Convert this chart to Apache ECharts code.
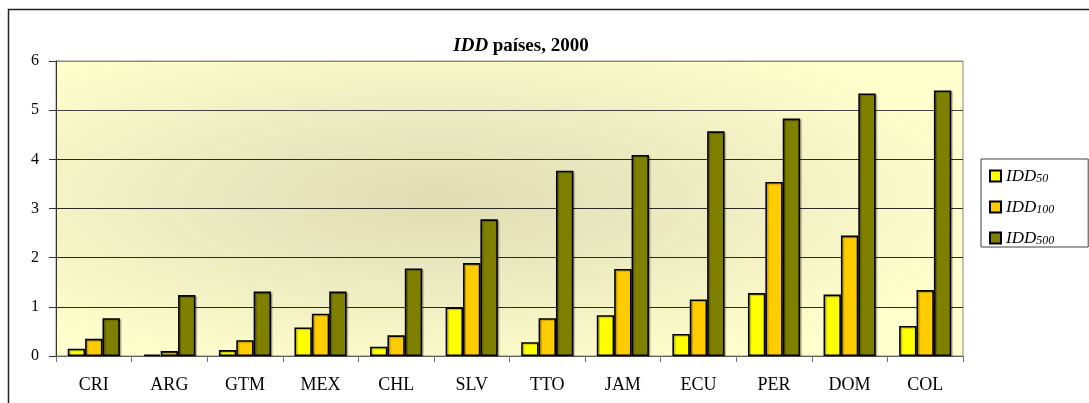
<!DOCTYPE html>
<html>
<head>
<meta charset="utf-8">
<script src="https://cdn.jsdelivr.net/npm/echarts@6/dist/echarts.min.js"></script>
<style>
  html, body { margin: 0; padding: 0; background: #ffffff; }
  #chart { width: 1089px; height: 403px; }
</style>
</head>
<body>
<div id="chart"></div>
<script>
// Countries (ISO codes) along the category axis
const categories = ['CRI', 'ARG', 'GTM', 'MEX', 'CHL', 'SLV', 'TTO', 'JAM', 'ECU', 'PER', 'DOM', 'COL'];

// IDD index per country for the three thresholds
const idd50  = [0.15, 0.03, 0.12, 0.58, 0.19, 0.99, 0.28, 0.83, 0.45, 1.28, 1.25, 0.61];
const idd100 = [0.35, 0.10, 0.32, 0.86, 0.42, 1.89, 0.77, 1.77, 1.15, 3.54, 2.45, 1.34];
const idd500 = [0.77, 1.24, 1.31, 1.31, 1.78, 2.78, 3.77, 4.09, 4.57, 4.83, 5.34, 5.40];

// Series names and the subscript shown after "IDD" in the legend
const seriesNames = ['IDD50', 'IDD100', 'IDD500'];
const subscripts  = ['50', '100', '500'];
const seriesColors = ['#FFFF00', '#FFCC00', '#808000'];

const yTicks = { min: 0, max: 6, interval: 1 };

const SERIF = '"Liberation Serif", "Times New Roman", serif';

// Plot area box, shared by the grid and its background
const plot = { left: 56, top: 61, width: 907, height: 295 };

const chart = echarts.init(document.getElementById('chart'), null, { renderer: 'canvas' });

const seriesData = [idd50, idd100, idd500];

const option = {
  animation: false,
  backgroundColor: '#ffffff',
  textStyle: { fontFamily: SERIF, color: '#000' },
  title: {
    text: '{i|IDD} {b|países, 2000}',
    left: 516,
    top: 32,
    textAlign: 'center',
    textStyle: {
      rich: {
        i: { fontFamily: SERIF, fontSize: 19, fontWeight: 'bold', fontStyle: 'italic', color: '#000' },
        b: { fontFamily: SERIF, fontSize: 19, fontWeight: 'bold', color: '#000' }
      }
    }
  },
  legend: {
    orient: 'vertical',
    left: 981,
    top: 159,
    padding: [9, 34, 0, 8],
    itemGap: 14,
    itemWidth: 11,
    itemHeight: 11,
    icon: 'rect',
    backgroundColor: '#ffffff',
    borderColor: '#404040',
    borderWidth: 1,
    borderRadius: 0,
    data: seriesNames,
    formatter: function (name) {
      const k = seriesNames.indexOf(name);
      return '{m|IDD}{s|' + subscripts[k] + '}';
    },
    textStyle: {
      rich: {
        m: { fontFamily: SERIF, fontSize: 17, fontStyle: 'italic', color: '#000', lineHeight: 18, verticalAlign: 'bottom' },
        s: { fontFamily: SERIF, fontSize: 12, fontStyle: 'italic', color: '#000', lineHeight: 10, verticalAlign: 'bottom' }
      }
    }
  },
  graphic: [
    // Plot background: soft radial shading, darker toward the middle
    {
      type: 'rect',
      z: -10,
      silent: true,
      x: plot.left,
      y: plot.top,
      scaleX: plot.width / plot.height,
      scaleY: 1,
      shape: { x: 0, y: 0, width: plot.height, height: plot.height },
      style: {
        fill: {
          type: 'radial',
          x: 0.42, y: 0.47, r: 0.62,
          colorStops: [
            { offset: 0, color: '#E0DDB3' },
            { offset: 0.35, color: '#E9E7BF' },
            { offset: 1, color: '#FFFFCD' }
          ],
          global: false
        }
      }
    },
    // Chart frame
    {
      type: 'rect',
      z: 100,
      silent: true,
      shape: { x: 8.5, y: 9.5, width: 1200, height: 500 },
      style: { fill: null, stroke: '#222', lineWidth: 1.5 }
    }
  ],
  grid: {
    left: plot.left,
    top: plot.top,
    width: plot.width,
    height: plot.height,
    show: true,
    backgroundColor: 'transparent',
    borderColor: '#8a8a8a',
    borderWidth: 1
  },
  xAxis: {
    type: 'category',
    data: categories,
    boundaryGap: true,
    axisLine: { show: true, lineStyle: { color: '#606060', width: 1 } },
    axisTick: { show: true, interval: 0, length: 6, lineStyle: { color: '#707070' } },
    axisLabel: { interval: 0, margin: 20, fontFamily: SERIF, fontSize: 18, color: '#000' },
    splitLine: { show: false }
  },
  yAxis: {
    type: 'value',
    min: yTicks.min,
    max: yTicks.max,
    interval: yTicks.interval,
    axisLine: { show: true, lineStyle: { color: '#333', width: 1 } },
    axisTick: { show: true, inside: false, length: 7, lineStyle: { color: '#333' } },
    axisLabel: { margin: 17, fontFamily: SERIF, fontSize: 16, color: '#000' },
    splitLine: {
      show: true,
      lineStyle: {
        color: ['#333', '#2a2a2a', '#2a2a2a', '#2a2a2a', '#2a2a2a', '#444', '#8a8a8a'],
        width: 1
      }
    }
  },
  series: seriesNames.map(function (name, k) {
    return {
      name: name,
      type: 'bar',
      data: seriesData[k],
      barGap: '0%',
      barCategoryGap: '31%',
      itemStyle: {
        color: seriesColors[k],
        borderColor: '#000',
        borderWidth: 1.6,
        shadowColor: 'rgba(0,0,0,0.25)',
        shadowBlur: 1,
        shadowOffsetX: 1.5,
        shadowOffsetY: 1
      }
    };
  })
};

chart.setOption(option);
</script>
</body>
</html>
